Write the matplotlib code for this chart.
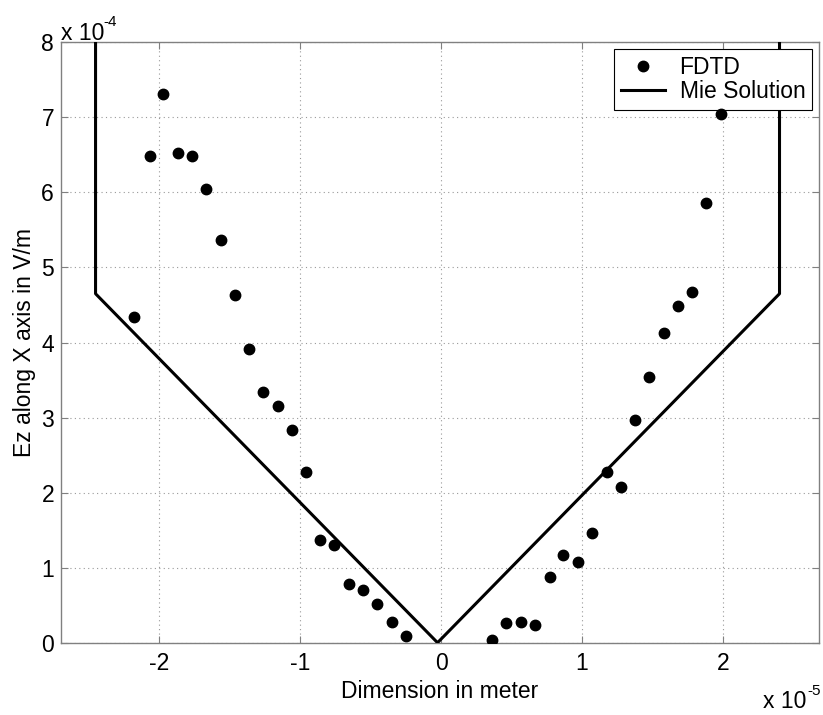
import matplotlib
matplotlib.use("Agg")
import matplotlib.pyplot as plt

plt.rcParams['font.family'] = ['Liberation Sans', 'DejaVu Sans']

# FDTD samples (x in 1e-5 m, Ez in 1e-4 V/m)
fdtd_x = [-2.174, -2.067, -1.970, -1.867, -1.763, -1.667, -1.559, -1.463, -1.359, -1.263,
          -1.159, -1.056, -0.956, -0.856, -0.756, -0.652, -0.552, -0.452, -0.348, -0.248,
          0.359, 0.463, 0.567, 0.667, 0.770, 0.867, 0.974, 1.070, 1.174, 1.278,
          1.374, 1.478, 1.578, 1.678, 1.778, 1.881, 1.985]
fdtd_y = [4.34, 6.49, 7.31, 6.53, 6.49, 6.04, 5.36, 4.63, 3.91, 3.34,
          3.15, 2.84, 2.27, 1.37, 1.30, 0.78, 0.70, 0.52, 0.27, 0.09,
          0.04, 0.26, 0.27, 0.24, 0.87, 1.17, 1.08, 1.46, 2.27, 2.08,
          2.97, 3.54, 4.12, 4.48, 4.67, 5.86, 7.04]

# Mie solution polyline
mie_x = [-2.45, -2.45, -0.025, 2.40, 2.40]
mie_y = [9.0, 4.65, 0.0, 4.65, 9.0]

xticks = [-2, -1, 0, 1, 2]
yticks = [0, 1, 2, 3, 4, 5, 6, 7, 8]

FS = 16.5
FS_SUP = 11

W, H = 823, 715
fig = plt.figure(figsize=(W/100, H/100), dpi=100)
ax = fig.add_axes([61/W, 1 - 642.7/H, (819-61)/W, (642.7-42.3)/H])

ax.plot(fdtd_x, fdtd_y, 'o', color='black', markersize=7.5, linestyle='none',
        label='FDTD', zorder=6)
ax.plot(mie_x, mie_y, '-', color='black', linewidth=2.2, label='Mie Solution', zorder=3)

ax.set_xlim(-2.695, 2.68)
ax.set_ylim(0, 8)
ax.set_xticks(xticks)
ax.set_yticks(yticks)
ax.set_xticklabels([str(t) for t in xticks])
ax.set_yticklabels([str(t) for t in yticks])

ax.grid(True, linestyle=(0, (1, 3)), color='#999999', linewidth=0.8)
for s in ax.spines.values():
    s.set_color('#808080')
    s.set_linewidth(1.0)
ax.tick_params(direction='in', length=5, color='#808080', top=True, right=True,
               labelsize=FS)
ax.tick_params(axis='x', pad=7)
ax.tick_params(axis='y', pad=5)

ax.set_xlabel('Dimension in meter', fontsize=FS, labelpad=3)
ax.set_ylabel('Ez along X axis in V/m', fontsize=FS, labelpad=4)

# exponent annotations (MATLAB style)
fig.text(61/W, 1 - 33/H, 'x 10', fontsize=FS, ha='left', va='center')
fig.text(103/W, 1 - 22/H, '-4', fontsize=FS_SUP, ha='left', va='center')
fig.text(806/W, 1 - 702/H, 'x 10', fontsize=FS, ha='right', va='center')
fig.text(807/W, 1 - 691/H, '-5', fontsize=FS_SUP, ha='left', va='center')

leg = ax.legend(loc='upper right', fontsize=FS, frameon=True, fancybox=False,
                edgecolor='black', framealpha=1, borderaxespad=0.3,
                handlelength=1.9, borderpad=0.3, labelspacing=0.05, handletextpad=0.65)
leg.get_frame().set_linewidth(0.8)
leg.set_zorder(5)

fig.savefig('out.png', dpi=100)
